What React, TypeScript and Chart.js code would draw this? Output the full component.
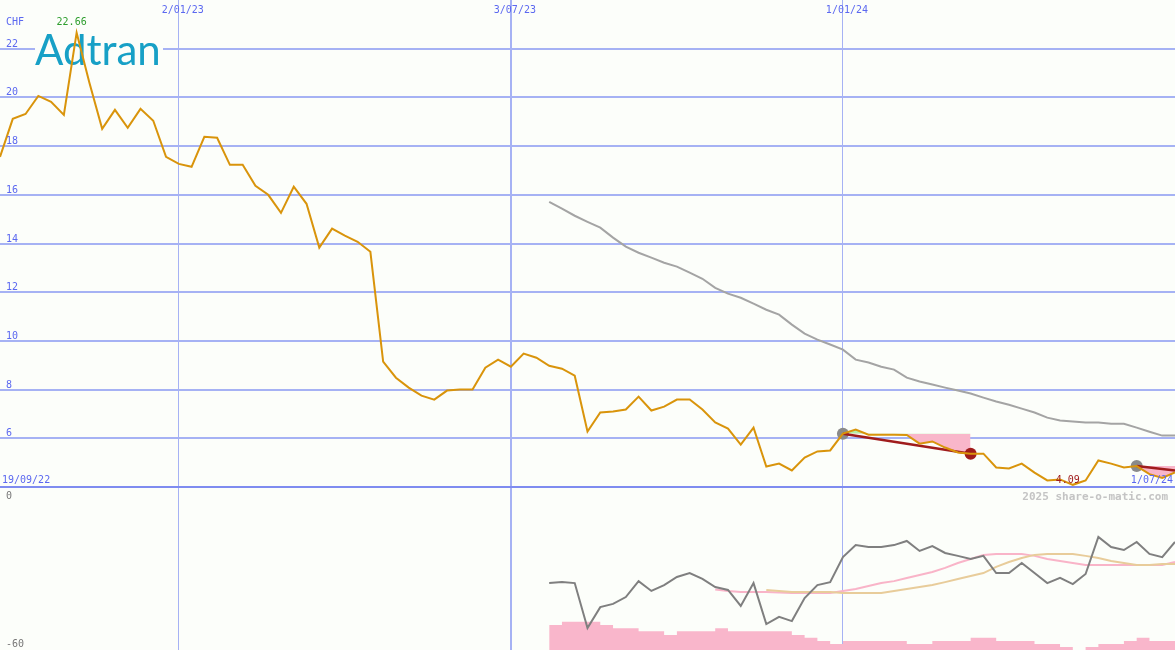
import React, { useEffect, useRef } from 'react';
import { Chart, registerables } from 'chart.js';

Chart.register(...registerables);

// Weekly closing prices (CHF), index 0 = 19/09/22
const price = [
  17.56, 19.12, 19.32, 20.06, 19.82, 19.28, 22.66, 20.6, 18.71, 19.49,
  18.75, 19.53, 19.04, 17.56, 17.27, 17.15, 18.38, 18.34, 17.23, 17.23,
  16.37, 16.0, 15.26, 16.33, 15.63, 13.83, 14.61, 14.32, 14.07, 13.66,
  9.15, 8.49, 8.08, 7.75, 7.59, 7.96, 8.0, 8.0, 8.9, 9.23,
  8.94, 9.48, 9.31, 8.98, 8.86, 8.57, 6.28, 7.06, 7.1, 7.18,
  7.71, 7.14, 7.3, 7.59, 7.59, 7.18, 6.65, 6.4, 5.74, 6.44,
  4.84, 4.96, 4.68, 5.21, 5.46, 5.5, 6.19, 6.36, 6.15, 6.15,
  6.15, 6.14, 5.78, 5.87, 5.62, 5.42, 5.37, 5.37, 4.8, 4.76,
  4.96, 4.59, 4.27, 4.31, 4.09, 4.27, 5.09, 4.96, 4.8, 4.86,
  4.53, 4.37, 4.6,
];

// Long moving average (starts at week 43)
const maStart = 43;
const movingAverage = [
  15.71, 15.43, 15.14, 14.89, 14.65, 14.24, 13.87, 13.62, 13.42, 13.21,
  13.05, 12.8, 12.55, 12.18, 11.94, 11.77, 11.53, 11.28, 11.08, 10.67,
  10.3, 10.05, 9.85, 9.64, 9.23, 9.11, 8.94, 8.82, 8.49, 8.33,
  8.21, 8.08, 7.96, 7.84, 7.67, 7.51, 7.38, 7.22, 7.06, 6.85,
  6.73, 6.69, 6.65, 6.65, 6.6, 6.6, 6.44, 6.27, 6.11, 6.11,
];

// Lower panel indicator (starts at week 43)
const indicatorStart = 43;
const indicator = [
  -33.7, -33.3, -33.7, -52.0, -43.5, -42.2, -39.4, -32.9, -36.9, -34.5,
  -31.2, -29.6, -32.0, -35.3, -36.5, -43.0, -33.7, -50.4, -47.5, -49.2,
  -39.8, -34.5, -33.3, -23.1, -18.2, -19.0, -19.0, -18.2, -16.5, -20.6,
  -18.6, -21.4, -22.6, -23.9, -22.6, -29.6, -29.6, -25.5, -29.6, -33.7,
  -31.6, -34.1, -30.0, -14.9, -19.0, -20.2, -16.9, -21.8, -23.1, -16.9,
];

const fastStart = 56;
const fastSignal = [
  -36.3, -36.9, -37.3, -37.3, -37.3, -37.5, -37.7, -37.7, -37.7, -37.7,
  -36.9, -36.1, -34.9, -33.7, -32.9, -31.6, -30.4, -29.2, -27.5, -25.5,
  -23.9, -22.2, -21.8, -21.8, -21.8, -22.6, -23.9, -24.7, -25.5, -26.3,
  -26.3, -26.3, -26.3, -26.3, -26.3, -26.3, -25.1,
];

const slowStart = 60;
const slowSignal = [
  -36.5, -36.9, -37.3, -37.3, -37.3, -37.3, -37.7, -37.7, -37.7, -37.7,
  -36.9, -36.1, -35.3, -34.5, -33.3, -32.0, -30.8, -29.6, -27.1, -25.1,
  -23.5, -22.2, -21.8, -21.8, -21.8, -22.6, -23.5, -24.7, -25.5, -26.3,
  -26.3, -25.9, -25.9,
];

const histStart = 43;
const histogram = [
  -50.8, -50.8, -49.5, -49.5, -49.5, -50.8, -52.1, -52.1, -53.3, -53.3,
  -54.9, -53.3, -53.3, -53.3, -52.1, -53.3, -53.3, -53.3, -53.3, -53.3,
  -54.9, -56.0, -57.3, -58.6, -57.3, -57.3, -57.3, -57.3, -57.3, -58.6,
  -58.6, -57.3, -57.3, -57.3, -56.0, -56.0, -57.3, -57.3, -57.3, -58.6,
  -58.6, -59.8, -61.0, -59.8, -58.6, -58.6, -57.3, -56.0, -57.3, -57.3,
];

// Trend signals: start week, start value, end week, end value
const trendStarts = [66, 89];
const trendStartValues = [6.19, 4.86];
const trendEnds = [76, 92];
const trendEndValues = [5.37, 4.68];
const closedTrends = [true, false];

const dateTickWeeks = [14, 40, 66];
const dateTickLabels = ['2/01/23', '3/07/23', '1/01/24'];
const firstDateLabel = '19/09/22';
const lastDateLabel = '1/07/24';
const priceTickLabels = [6, 8, 10, 12, 14, 16, 18, 20, 22];
const indicatorTickLabels = [0, -60];

const BG = '#fcfefa';
const BLUE = '#5b68f0';
const GRID = '#a6b2f4';
const MONO = '"DejaVu Sans Mono", monospace';

const pts = (arr: number[], start: number) => arr.map((v, i) => ({ x: start + i, y: v }));

const decor = {
  id: 'decor',
  beforeDraw(chart: any) {
    const ctx = chart.ctx;
    ctx.save();
    ctx.fillStyle = BG;
    ctx.fillRect(0, 0, chart.width, chart.height);
    ctx.restore();
  },
  beforeDatasetsDraw(chart: any) {
    const ctx = chart.ctx;
    ctx.save();
    ctx.font = '42px Lato, "Noto Sans", sans-serif';
    ctx.fillStyle = BG;
    ctx.fillRect(35, 30, 128, 38);
    ctx.fillStyle = '#17a0c6';
    ctx.textBaseline = 'alphabetic';
    ctx.textAlign = 'left';
    ctx.fillText('Adtran', 35, 65, 128);
    ctx.restore();
  },
  afterDraw(chart: any) {
    const ctx = chart.ctx;
    const x = chart.scales.x;
    const y = chart.scales.y;
    const yi = chart.scales.yInd;
    ctx.save();
    ctx.font = '10px ' + MONO;
    ctx.textBaseline = 'alphabetic';
    ctx.fillStyle = BLUE;
    ctx.textAlign = 'left';
    ctx.fillText('CHF', 6, 25);
    priceTickLabels.forEach((v) => {
      ctx.fillText(String(v), 6, Math.round(y.getPixelForValue(v)) - 2);
    });
    ctx.textAlign = 'center';
    dateTickWeeks.forEach((wk, i) => {
      ctx.fillText(dateTickLabels[i], x.getPixelForValue(wk) + 4, 13);
    });
    const baseY = Math.round(y.getPixelForValue(4)) - 4;
    ctx.textAlign = 'left';
    ctx.fillText(firstDateLabel, 2, baseY);
    ctx.textAlign = 'right';
    ctx.fillText(lastDateLabel, 1173, baseY);

    // max / min labels
    let maxI = 0, minI = 0;
    price.forEach((v, i) => { if (v > price[maxI]) maxI = i; if (v < price[minI]) minI = i; });
    ctx.textAlign = 'center';
    ctx.fillStyle = '#2e9e2e';
    ctx.fillText(price[maxI].toFixed(2), x.getPixelForValue(maxI) - 5, y.getPixelForValue(price[maxI]) - 8);
    ctx.fillStyle = '#a01c1c';
    ctx.fillText(price[minI].toFixed(2), x.getPixelForValue(minI) - 5, y.getPixelForValue(price[minI]) - 2);

    // indicator labels
    ctx.fillStyle = '#777777';
    ctx.textAlign = 'left';
    indicatorTickLabels.forEach((v) => {
      ctx.fillText(String(v), 6, yi.getPixelForValue(v) - 1);
    });

    ctx.font = 'bold 11px ' + MONO;
    ctx.fillStyle = '#c4c4c4';
    ctx.textAlign = 'right';
    ctx.fillText('2025 share-o-matic.com', 1168, 500);
    ctx.restore();
  },
};

export default function App() {
  const ref = useRef<HTMLCanvasElement>(null);
  useEffect(() => {
    const canvas = ref.current!;
    const lineBase = { pointRadius: 0, tension: 0, fill: false, borderWidth: 2 };
    const datasets: any[] = [
      { ...lineBase, label: 'price', data: pts(price, 0), borderColor: '#d9940b', yAxisID: 'y', order: 0 },
    ];
    trendStarts.forEach((s, i) => {
      datasets.push({
        ...lineBase, label: 'trend' + i, yAxisID: 'y', order: 1, borderColor: '#a01c1c', borderWidth: 2.5,
        data: [{ x: s, y: trendStartValues[i] }, { x: trendEnds[i], y: trendEndValues[i] }],
      });
      datasets.push({
        label: 'start' + i, yAxisID: 'y', order: 3, showLine: false, pointRadius: 6, pointBorderWidth: 0,
        pointBackgroundColor: '#8a8a8a', data: [{ x: s, y: trendStartValues[i] }],
      });
      if (closedTrends[i]) {
        datasets.push({
          label: 'end' + i, yAxisID: 'y', order: 2, showLine: false, pointRadius: 6, pointBorderWidth: 0,
          pointBackgroundColor: '#a01c1c', data: [{ x: trendEnds[i], y: trendEndValues[i] }],
        });
      }
      const seg = price.slice(s, trendEnds[i] + 1);
      datasets.push({
        label: 'zone' + i, yAxisID: 'y', order: 5, pointRadius: 0, tension: 0, borderWidth: 0,
        borderColor: 'rgba(0,0,0,0)', data: pts(seg, s),
        fill: { target: { value: trendStartValues[i] }, above: '#b4f0a4', below: '#f9b6ca' },
      });
    });
    datasets.push({ ...lineBase, label: 'ma', data: pts(movingAverage, maStart), borderColor: '#a4a4a4', yAxisID: 'y', order: 4 });
    datasets.push({ ...lineBase, label: 'ind', data: pts(indicator, indicatorStart), borderColor: '#7f7f7f', yAxisID: 'yInd', order: 6 });
    datasets.push({ ...lineBase, label: 'slow', data: pts(slowSignal, slowStart), borderColor: '#e8cc9a', yAxisID: 'yInd', order: 7 });
    datasets.push({ ...lineBase, label: 'fast', data: pts(fastSignal, fastStart), borderColor: '#f9b4c8', yAxisID: 'yInd', order: 8 });
    datasets.push({
      label: 'hist', data: pts(histogram, histStart), yAxisID: 'yInd', order: 9, stepped: 'after',
      pointRadius: 0, borderWidth: 0, borderColor: 'rgba(0,0,0,0)', backgroundColor: '#f9b6cb', fill: 'start',
    });

    const chart = new Chart(canvas, {
      type: 'line',
      data: { datasets },
      options: {
        animation: false,
        responsive: false,
        devicePixelRatio: 1,
        events: [],
        layout: { padding: 0, autoPadding: false },
        plugins: { legend: { display: false }, tooltip: { enabled: false }, title: { display: false } },
        scales: {
          x: {
            type: 'linear', min: 0, max: 92, position: 'bottom',
            afterBuildTicks: (s: any) => { s.ticks = dateTickWeeks.map((v) => ({ value: v })); },
            afterFit: (s: any) => { s.height = 0; },
            ticks: { display: false },
            border: { display: false },
            grid: {
              drawTicks: false,
              color: GRID,
              lineWidth: (c: any) => (c.tick && c.tick.value === 40 ? 2 : 1),
            },
          },
          yInd: {
            type: 'linear', position: 'left', stack: 'panels', stackWeight: 163, min: -61, max: 5.5,
            afterFit: (s: any) => { s.width = 0; },
            ticks: { display: false },
            border: { display: false },
            grid: { display: false, drawTicks: false },
          },
          y: {
            type: 'linear', position: 'left', stack: 'panels', stackWeight: 487, min: 4, max: 24,
            afterFit: (s: any) => { s.width = 0; },
            ticks: { display: false, stepSize: 2 },
            border: { display: false },
            grid: {
              drawTicks: false,
              lineWidth: 2,
              color: (c: any) => {
                const v = c.tick ? c.tick.value : 0;
                if (v === 24) return 'rgba(0,0,0,0)';
                if (v === 4) return '#7f8cf0';
                return GRID;
              },
            },
          },
        },
      } as any,
      plugins: [decor],
    });
    return () => chart.destroy();
  }, []);
  return (
    <div style={{ position: 'fixed', left: 0, top: 0, width: 1175, height: 650, background: BG }}>
      <canvas ref={ref} width={1175} height={650} style={{ display: 'block' }} />
    </div>
  );
}
